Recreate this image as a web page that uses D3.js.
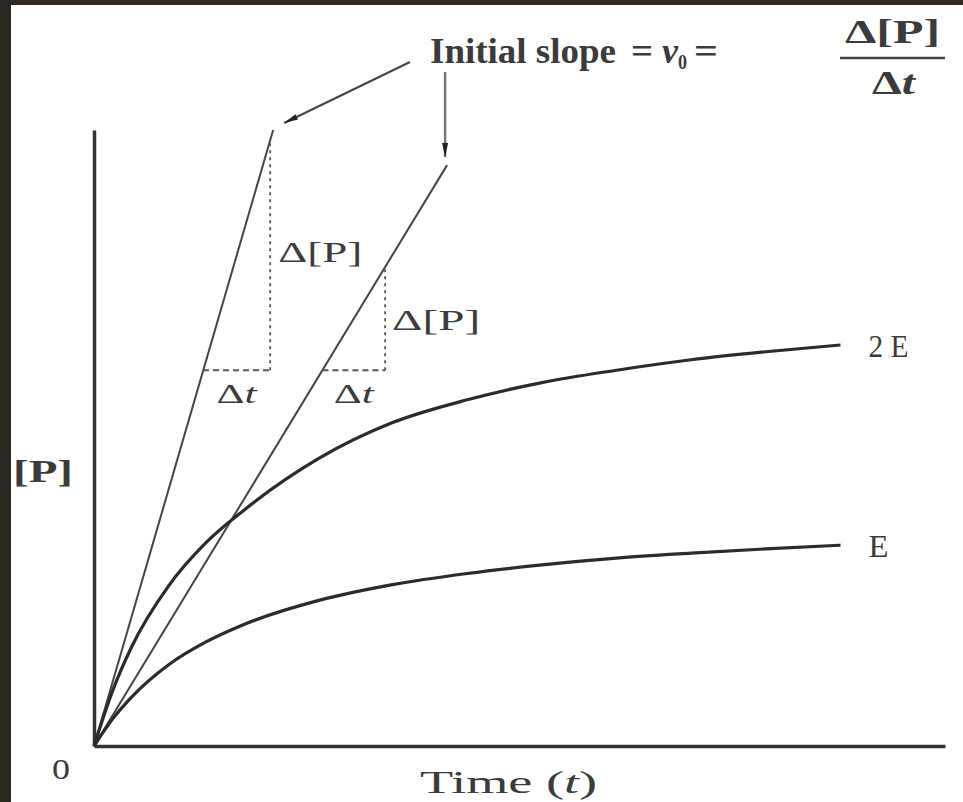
<!DOCTYPE html>
<html>
<head>
<meta charset="utf-8">
<script src="https://cdn.jsdelivr.net/npm/d3@7"></script>
<style>
  html, body { margin: 0; padding: 0; background: #2c2720; }
  svg { display: block; }
  text { font-family: "Liberation Serif", "DejaVu Serif", serif; fill: #3b3b3b; }
</style>
</head>
<body>
<svg id="chart" width="963" height="802"></svg>
<script>
// Product formed over time for enzyme amount E and 2E
const times = [0, 0.25, 0.5, 1, 1.5, 2, 3, 4, 5, 6, 7, 8, 9, 10];
const product2E = [0, 0.90, 1.60, 2.60, 3.30, 3.82, 4.66, 5.25, 5.62, 5.90, 6.10, 6.27, 6.40, 6.51];
const productE = [0, 0.44, 0.79, 1.32, 1.69, 1.97, 2.36, 2.62, 2.80, 2.94, 3.05, 3.13, 3.20, 3.26];
const seriesLabels = ["2 E", "E"];

// Initial-slope tangent lines (end points) and their rise/run triangles
const slopeEndTimes = [2.40, 4.73];
const slopeEndValues = [10, 9.43];
const runStartTimes = [1.46, 3.06];
const runEndTimes = [2.36, 3.90];
const runLevel = 6.10;

const svg = d3.select("#chart");
const width = 963, height = 802;

// dark frame + white page
svg.append("rect").attr("width", width).attr("height", height).attr("fill", "#2c2720");
svg.append("rect").attr("x", 11).attr("y", 5).attr("width", width - 11).attr("height", height - 5).attr("fill", "#fff");

const x = d3.scaleLinear().domain([0, 11.4]).range([94, 945]);
const y = d3.scaleLinear().domain([0, 10]).range([746, 130]);

const defs = svg.append("defs");
defs.append("marker")
  .attr("id", "head")
  .attr("viewBox", "0 0 14 6")
  .attr("refX", 14).attr("refY", 3)
  .attr("markerWidth", 14).attr("markerHeight", 6)
  .attr("markerUnits", "userSpaceOnUse")
  .attr("orient", "auto")
  .append("path").attr("d", "M0,0 L14,3 L0,6 Z").attr("fill", "#222");

// fixed-width text helper, the scan's lettering is wide
function label(xPos, yPos, size, len, parts, opts = {}) {
  const t = svg.append("text")
    .attr("x", xPos).attr("y", yPos)
    .attr("font-size", size)
    .attr("textLength", len).attr("lengthAdjust", "spacingAndGlyphs");
  if (opts.weight) t.attr("font-weight", opts.weight);
  parts.forEach(p => {
    const s = t.append("tspan").text(p.s);
    if (p.italic) s.attr("font-style", "italic");
    if (p.sub) s.attr("font-size", size * 0.6).attr("dy", size * 0.18);
  });
  return t;
}

// axes: plain lines, no ticks
const xAxis = svg.append("g").attr("transform", `translate(0,${y(0)})`)
  .call(d3.axisBottom(x).tickValues([]).tickSizeOuter(0));
const yAxis = svg.append("g").attr("transform", `translate(${x(0)},0)`)
  .call(d3.axisLeft(y).tickValues([]).tickSizeOuter(0));
[xAxis, yAxis].forEach(a => a.select(".domain").attr("stroke", "#333").attr("stroke-width", 3.5));

// tangent (initial slope) lines
slopeEndTimes.forEach((t, i) => {
  svg.append("line")
    .attr("x1", x(0)).attr("y1", y(0))
    .attr("x2", x(t)).attr("y2", y(slopeEndValues[i]))
    .attr("stroke", "#444").attr("stroke-width", 2);
});

// rise / run triangles
runStartTimes.forEach((t0, i) => {
  const t1 = runEndTimes[i];
  const top = slopeEndValues[i] / slopeEndTimes[i] * t1;
  svg.append("line")
    .attr("x1", x(t0)).attr("y1", y(runLevel))
    .attr("x2", x(t1)).attr("y2", y(runLevel))
    .attr("stroke", "#555").attr("stroke-width", 1.8).attr("stroke-dasharray", "6,4");
  svg.append("line")
    .attr("x1", x(t1)).attr("y1", y(runLevel))
    .attr("x2", x(t1)).attr("y2", y(top))
    .attr("stroke", "#555").attr("stroke-width", 1.8).attr("stroke-dasharray", "3,4");
});

// progress curves
const line = d3.line().x(d => x(d[0])).y(d => y(d[1])).curve(d3.curveMonotoneX);
[product2E, productE].forEach((vals, i) => {
  svg.append("path")
    .datum(times.map((t, j) => [t, vals[j]]))
    .attr("d", line)
    .attr("fill", "none").attr("stroke", "#2b2b2b").attr("stroke-width", 3.2);
  const last = vals[vals.length - 1];
  label(x(10) + 28, y(last) + 12, 32, i === 0 ? 40 : 20, [{ s: seriesLabels[i] }]);
});

// Δ labels beside the triangles
label(x(runEndTimes[0]) + 8, 262, 29, 84, [{ s: "Δ[P]" }]);
label(x(runEndTimes[1]) + 7, 330, 29, 88, [{ s: "Δ[P]" }]);
runStartTimes.forEach((t0, i) => {
  const mid = (x(t0) + x(runEndTimes[i])) / 2;
  label(mid - 20, 403, 28, 40, [{ s: "Δ" }, { s: "t", italic: true }]);
});

// annotation arrows
svg.append("line")
  .attr("x1", 410).attr("y1", 62).attr("x2", x(slopeEndTimes[0]) + 11).attr("y2", y(slopeEndValues[0]) - 7)
  .attr("stroke", "#444").attr("stroke-width", 2).attr("marker-end", "url(#head)");
svg.append("line")
  .attr("x1", x(slopeEndTimes[1]) - 2).attr("y1", 72).attr("x2", x(slopeEndTimes[1]) - 2).attr("y2", y(slopeEndValues[1]) - 8)
  .attr("stroke", "#777").attr("stroke-width", 2.5).attr("marker-end", "url(#head)");

// title formula
label(430, 63, 36, 186, [{ s: "Initial slope" }], { weight: "bold" });
label(631, 63, 36, 22, [{ s: "=" }], { weight: "bold" });
label(662, 63, 36, 16, [{ s: "v", italic: true }], { weight: "bold" });
label(678, 63, 36, 9, [{ s: "0", sub: true }], { weight: "bold" });
label(694, 63, 36, 24, [{ s: "=" }], { weight: "bold" });
label(845, 43, 34, 95, [{ s: "Δ[P]" }], { weight: "bold" });
svg.append("line").attr("x1", 840).attr("x2", 945).attr("y1", 58).attr("y2", 58).attr("stroke", "#444").attr("stroke-width", 2.5);
label(872, 94, 34, 43, [{ s: "Δ" }, { s: "t", italic: true }], { weight: "bold" });

// axis labels
label(13, 482, 32, 60, [{ s: "[P]" }], { weight: "bold" });
label(52, 779, 30, 18, [{ s: "0" }]);
label(420, 793, 32, 177, [{ s: "Time (" }, { s: "t", italic: true }, { s: ")" }]);
</script>
</body>
</html>
